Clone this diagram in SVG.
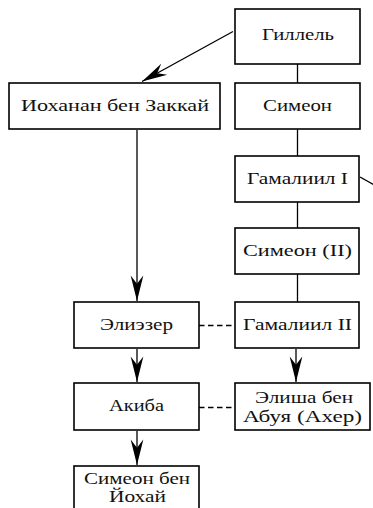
<svg xmlns="http://www.w3.org/2000/svg" width="373" height="508" viewBox="0 0 373 508">
<defs>
<marker id="ah" markerUnits="userSpaceOnUse" markerWidth="30" markerHeight="20" viewBox="-24 -8 26 16" refX="0" refY="0" orient="auto">
<path d="M0,0 L-22,-5.5 L-15,0 L-22,5.5 Z" fill="#000"/>
</marker>
</defs>
<style>
.b rect{fill:#fff;stroke:#000;stroke-width:1.6}
.b text{font-family:"Liberation Serif","DejaVu Serif",serif;font-size:17px;fill:#111;text-anchor:middle}
.c line{stroke:#000;stroke-width:1.3;fill:none}
.c .a{marker-end:url(#ah)}
.c .d{stroke-dasharray:5.5 3.5}
</style>
<rect width="373" height="508" fill="#fff"/>
<g class="c" id="connectors">
<line class="a" x1="233" y1="31.5" x2="142" y2="81.5"/>
<line x1="297.5" y1="64" x2="297.5" y2="83"/>
<line x1="297.5" y1="129" x2="297.5" y2="156"/>
<line x1="297.5" y1="202" x2="297.5" y2="228"/>
<line x1="297.5" y1="274" x2="297.5" y2="302"/>
<line x1="360" y1="177" x2="375" y2="185.5"/>
<line class="a" x1="137" y1="130" x2="137" y2="301"/>
<line class="a" x1="137" y1="349" x2="137" y2="382"/>
<line class="a" x1="137" y1="431" x2="137" y2="465"/>
<line class="a" x1="296" y1="349" x2="296" y2="382"/>
<line class="d" x1="199" y1="325.5" x2="235" y2="325.5"/>
<line class="d" x1="199" y1="407.5" x2="235" y2="407.5"/>
</g>
<g class="b" id="n-hillel"><rect x="235" y="9" width="125" height="55"/><text x="298" y="40" textLength="72" lengthAdjust="spacingAndGlyphs">Гиллель</text></g>
<g class="b" id="n-simeon"><rect x="235" y="83" width="125" height="46"/><text x="297.5" y="111" textLength="69" lengthAdjust="spacingAndGlyphs">Симеон</text></g>
<g class="b" id="n-gamaliel1"><rect x="235" y="156" width="124" height="46"/><text x="297.5" y="184" textLength="101" lengthAdjust="spacingAndGlyphs">Гамалиил I</text></g>
<g class="b" id="n-simeon2"><rect x="235" y="228" width="124" height="46"/><text x="297.5" y="256" textLength="109" lengthAdjust="spacingAndGlyphs">Симеон (II)</text></g>
<g class="b" id="n-gamaliel2"><rect x="235" y="302" width="124" height="46"/><text x="297.5" y="330" textLength="109" lengthAdjust="spacingAndGlyphs">Гамалиил II</text></g>
<g class="b" id="n-yohanan"><rect x="9" y="83" width="211" height="46"/><text x="115" y="111" textLength="188" lengthAdjust="spacingAndGlyphs">Иоханан бен Заккай</text></g>
<g class="b" id="n-eliezer"><rect x="74" y="302" width="125" height="46"/><text x="136.5" y="330" textLength="73" lengthAdjust="spacingAndGlyphs">Элиэзер</text></g>
<g class="b" id="n-akiba"><rect x="74" y="383" width="125" height="47"/><text x="136.5" y="411" textLength="55" lengthAdjust="spacingAndGlyphs">Акиба</text></g>
<g class="b" id="n-elisha"><rect x="235" y="383" width="135" height="47"/><text x="304" y="403" textLength="98" lengthAdjust="spacingAndGlyphs">Элиша бен</text><text x="302.5" y="422" textLength="119" lengthAdjust="spacingAndGlyphs">Абуя (Ахер)</text></g>
<g class="b" id="n-shimon"><rect x="74" y="466" width="125" height="50"/><text x="137" y="484" textLength="106" lengthAdjust="spacingAndGlyphs">Симеон бен</text><text x="137.5" y="502" textLength="57" lengthAdjust="spacingAndGlyphs">Йохай</text></g>
</svg>
